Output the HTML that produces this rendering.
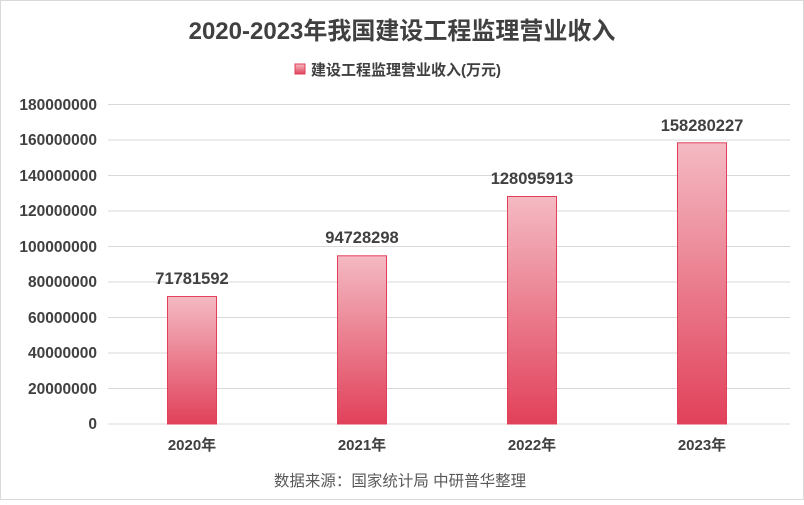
<!DOCTYPE html>
<html><head><meta charset="utf-8"><style>
body{margin:0;width:804px;height:500px;background:#fff;font-family:"Liberation Sans","Noto Sans CJK SC",sans-serif;overflow:hidden}
</style></head><body>
<svg width="804" height="500" xmlns="http://www.w3.org/2000/svg" font-family="Liberation Sans, Noto Sans CJK SC, sans-serif">
<defs><linearGradient id="g" x1="0" y1="0" x2="0" y2="1"><stop offset="0" stop-color="#f4bac3"/><stop offset="1" stop-color="#e1415a"/></linearGradient></defs>
<rect x="0.5" y="0.5" width="803" height="499" fill="#fff" stroke="#d9d9d9"/>
<text x="402" y="39" font-size="24" font-weight="bold" text-anchor="middle" fill="#404040">2020-2023年我国建设工程监理营业收入</text>
<rect x="295" y="64" width="10" height="10" fill="url(#g)" stroke="#e0405a"/>
<text x="311" y="75" font-size="15" font-weight="bold" fill="#404040">建设工程监理营业收入(万元)</text>
<g stroke="#d9d9d9" stroke-width="1">
<line x1="108" x2="790" y1="104.5" y2="104.5"/><line x1="108" x2="790" y1="140" y2="140"/><line x1="108" x2="790" y1="175.5" y2="175.5"/><line x1="108" x2="790" y1="211" y2="211"/><line x1="108" x2="790" y1="246.5" y2="246.5"/><line x1="108" x2="790" y1="282" y2="282"/><line x1="108" x2="790" y1="317.5" y2="317.5"/><line x1="108" x2="790" y1="353" y2="353"/><line x1="108" x2="790" y1="388.5" y2="388.5"/><line x1="108" x2="790" y1="424" y2="424"/>
</g>
<g font-size="15.5" font-weight="bold" fill="#404040" text-anchor="end">
<text x="97" y="110">180000000</text><text x="97" y="145">160000000</text><text x="97" y="181">140000000</text><text x="97" y="216">120000000</text><text x="97" y="252">100000000</text><text x="97" y="287">80000000</text><text x="97" y="323">60000000</text><text x="97" y="358">40000000</text><text x="97" y="394">20000000</text><text x="97" y="429">0</text>
</g>
<g fill="url(#g)" stroke="#e0405a">
<rect x="167.5" y="296.5" width="49" height="127.5"/>
<rect x="337.5" y="255.8" width="49" height="168.2"/>
<rect x="507.5" y="196.5" width="49" height="227.5"/>
<rect x="677.5" y="142.8" width="49" height="281.2"/>
</g>
<g font-size="16.5" font-weight="bold" fill="#404040" text-anchor="middle">
<text x="192" y="284">71781592</text><text x="362" y="243">94728298</text><text x="532" y="184">128095913</text><text x="702" y="131">158280227</text>
</g>
<g font-size="15" font-weight="bold" fill="#404040" text-anchor="middle">
<text x="192" y="450">2020年</text><text x="362" y="450">2021年</text><text x="532" y="450">2022年</text><text x="702" y="450">2023年</text>
</g>
<text x="400" y="486" font-size="15.5" text-anchor="middle" fill="#595959">数据来源：国家统计局 中研普华整理</text>
</svg>
</body></html>
